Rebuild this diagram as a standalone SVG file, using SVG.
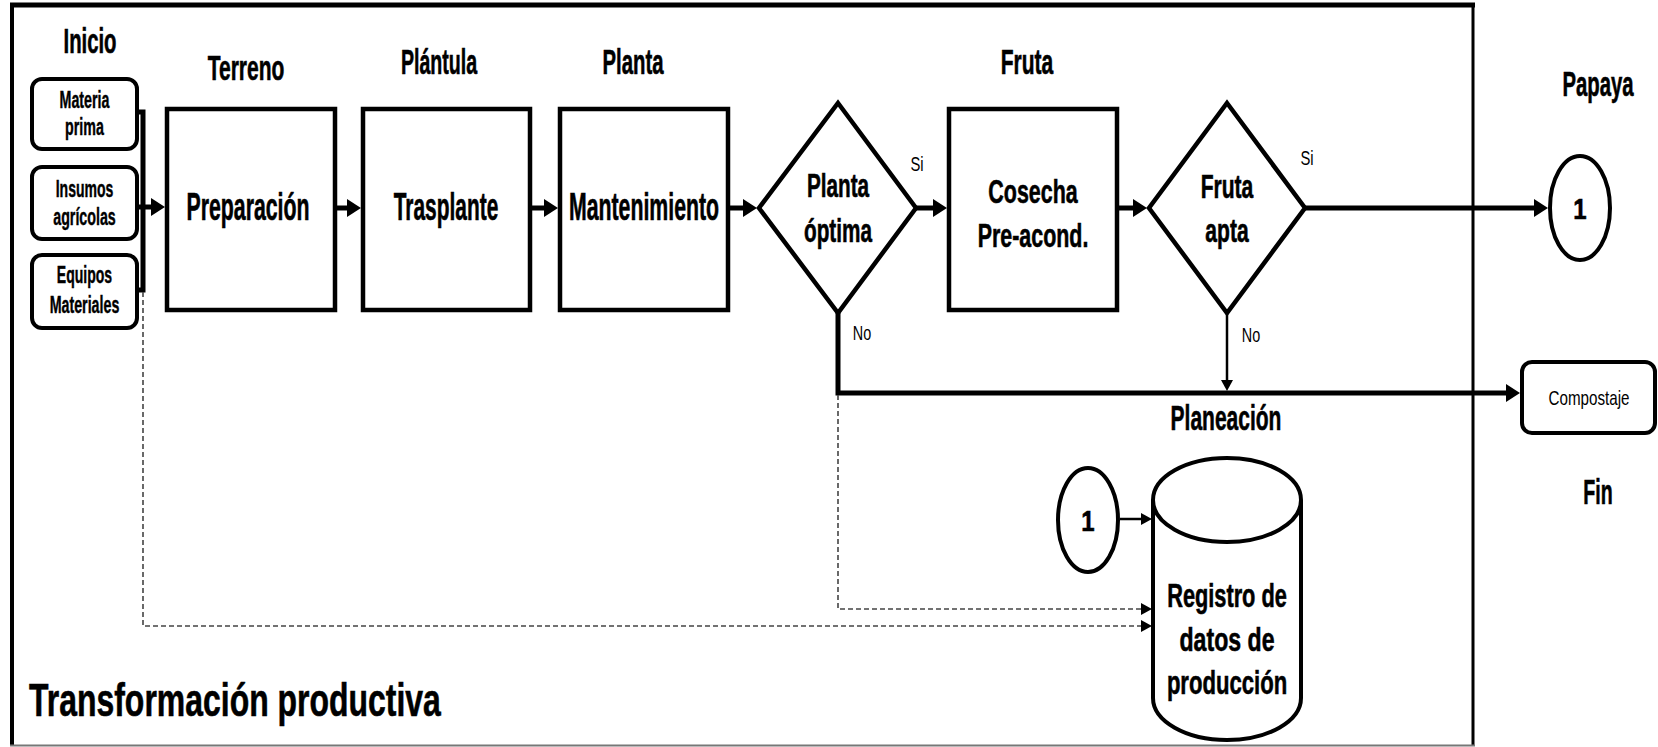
<svg xmlns="http://www.w3.org/2000/svg" width="1658" height="747" viewBox="0 0 1658 747">
  <defs>
    <marker id="ah" markerUnits="userSpaceOnUse" viewBox="0 0 14 18" refX="2" refY="9" markerWidth="14" markerHeight="18" orient="auto">
      <path d="M0,0 L14,9 L0,18 z" fill="#000"/>
    </marker>
    <marker id="ahs" markerUnits="userSpaceOnUse" viewBox="0 0 11 12" refX="2" refY="6" markerWidth="11" markerHeight="12" orient="auto">
      <path d="M0,0 L11,6 L0,12 z" fill="#000"/>
    </marker>
  </defs>
  <style>
    .t{font-family:"Liberation Sans",Arial,sans-serif;font-weight:bold;fill:#000;stroke:#000;stroke-width:0.6;text-anchor:middle}
    .n{font-weight:normal;stroke:none}
    .h{font-size:35px}
    .b{font-size:38px}
    .m{font-size:34px}
    .s{font-size:23px;stroke-width:0.4}
    .l{font-size:20px}
    .box{fill:#fff;stroke:#000;stroke-width:4.5}
    .rbox{fill:#fff;stroke:#000;stroke-width:4}
    .thick{fill:none;stroke:#000;stroke-width:5}
    .thin{fill:none;stroke:#000;stroke-width:2.5}
    .dash{fill:none;stroke:#444;stroke-width:1.6;stroke-dasharray:5 3}
  </style>
  <rect width="1658" height="747" fill="#fff"/>

  <!-- process frame -->
  <g id="frame">
    <line x1="10" y1="5" x2="1475" y2="5" stroke="#000" stroke-width="5"/>
    <line x1="12" y1="5" x2="12" y2="746" stroke="#000" stroke-width="4"/>
    <line x1="1473" y1="5" x2="1473" y2="746" stroke="#000" stroke-width="3"/>
    <line x1="10" y1="745.5" x2="1475" y2="745.5" stroke="#777" stroke-width="2"/>
    <text class="t" style="text-anchor:start" font-size="47" transform="translate(29,716) scale(0.68,1)">Transformación productiva</text>
  </g>

  <!-- stage headings (condensed bold) -->
  <g id="headings">
    <text class="t h" transform="translate(90,53) scale(0.58,1)">Inicio</text>
    <text class="t h" transform="translate(246,80) scale(0.6,1)">Terreno</text>
    <text class="t h" transform="translate(439,74) scale(0.56,1)">Plántula</text>
    <text class="t h" transform="translate(633,74) scale(0.58,1)">Planta</text>
    <text class="t h" transform="translate(1027,74) scale(0.6,1)">Fruta</text>
    <text class="t h" transform="translate(1598,96) scale(0.58,1)">Papaya</text>
    <text class="t h" transform="translate(1226,430) scale(0.6,1)">Planeación</text>
    <text class="t h" transform="translate(1598,504) scale(0.56,1)">Fin</text>
  </g>

  <!-- connectors -->
  <g id="connectors">
    <path class="thick" d="M137,112 H143 V290 H137"/>
    <line class="thick" x1="137" y1="207" x2="153" y2="207" marker-end="url(#ah)"/>
    <line class="thick" x1="335" y1="208" x2="349" y2="208" marker-end="url(#ah)"/>
    <line class="thick" x1="530" y1="208" x2="546" y2="208" marker-end="url(#ah)"/>
    <line class="thick" x1="728" y1="208" x2="745" y2="208" marker-end="url(#ah)"/>
    <line class="thick" x1="916" y1="208" x2="935" y2="208" marker-end="url(#ah)"/>
    <line class="thick" x1="1117" y1="208" x2="1135" y2="208" marker-end="url(#ah)"/>
    <line class="thick" x1="1305" y1="208" x2="1536" y2="208" marker-end="url(#ah)"/>
    <path class="thick" d="M838,313 V393 H1508" marker-end="url(#ah)"/>
    <line class="thin" x1="1227" y1="313" x2="1227" y2="382" marker-end="url(#ahs)"/>
    <line class="thin" x1="1120" y1="519" x2="1143" y2="519" marker-end="url(#ahs)"/>
    <path class="dash" d="M838,395 V609 H1143" marker-end="url(#ahs)"/>
    <path class="dash" d="M143,292 V626 H1143" marker-end="url(#ahs)"/>
    <text class="t n l" transform="translate(917,171) scale(0.74,1)">Si</text>
    <text class="t n l" transform="translate(1307,165) scale(0.74,1)">Si</text>
    <text class="t n l" transform="translate(862,340) scale(0.72,1)">No</text>
    <text class="t n l" transform="translate(1251,342) scale(0.72,1)">No</text>
  </g>

  <!-- inputs -->
  <g id="materia-prima">
    <rect class="rbox" x="32" y="79" width="105" height="70" rx="10"/>
    <text class="t s" transform="translate(84.5,108) scale(0.62,1)">Materia</text>
    <text class="t s" transform="translate(84.5,135) scale(0.62,1)">prima</text>
  </g>
  <g id="insumos">
    <rect class="rbox" x="32" y="167" width="105" height="72" rx="10"/>
    <text class="t s" transform="translate(84.5,197) scale(0.61,1)">Insumos</text>
    <text class="t s" transform="translate(84.5,225) scale(0.62,1)">agrícolas</text>
  </g>
  <g id="equipos">
    <rect class="rbox" x="32" y="255" width="105" height="73" rx="10"/>
    <text class="t s" transform="translate(84.5,283) scale(0.61,1)">Equipos</text>
    <text class="t s" transform="translate(84.5,313) scale(0.62,1)">Materiales</text>
  </g>

  <!-- process steps -->
  <g id="preparacion">
    <rect class="box" x="167" y="109" width="168" height="201"/>
    <text class="t b" transform="translate(248,220) scale(0.56,1)">Preparación</text>
  </g>
  <g id="trasplante">
    <rect class="box" x="363" y="109" width="167" height="201"/>
    <text class="t b" transform="translate(446,220) scale(0.55,1)">Trasplante</text>
  </g>
  <g id="mantenimiento">
    <rect class="box" x="560" y="109" width="168" height="201"/>
    <text class="t b" transform="translate(644,220) scale(0.56,1)">Mantenimiento</text>
  </g>
  <g id="planta-optima">
    <polygon class="box" points="838,103 916,208 838,313 759,208"/>
    <text class="t m" transform="translate(838,197) scale(0.61,1)">Planta</text>
    <text class="t m" transform="translate(838,242) scale(0.61,1)">óptima</text>
  </g>
  <g id="cosecha">
    <rect class="box" x="949" y="109" width="168" height="201"/>
    <text class="t m" transform="translate(1033,203) scale(0.63,1)">Cosecha</text>
    <text class="t m" transform="translate(1033,247) scale(0.63,1)">Pre-acond.</text>
  </g>
  <g id="fruta-apta">
    <polygon class="box" points="1227,103 1305,208 1227,313 1149,208"/>
    <text class="t m" transform="translate(1227,198) scale(0.62,1)">Fruta</text>
    <text class="t m" transform="translate(1227,242) scale(0.62,1)">apta</text>
  </g>

  <!-- outputs -->
  <g id="papaya">
    <ellipse class="rbox" cx="1580" cy="208" rx="30" ry="52"/>
    <text class="t" font-size="30" transform="translate(1580,219) scale(0.8,1)">1</text>
  </g>
  <g id="compostaje">
    <rect class="rbox" x="1522" y="362" width="133" height="71" rx="10"/>
    <text class="t n l" transform="translate(1589,405) scale(0.76,1)">Compostaje</text>
  </g>

  <!-- planning -->
  <g id="conector-1">
    <ellipse class="rbox" cx="1088" cy="520" rx="30" ry="52"/>
    <text class="t" font-size="30" transform="translate(1088,531) scale(0.8,1)">1</text>
  </g>
  <g id="registro">
    <path class="rbox" d="M1153,500 V698 A74,42 0 0 0 1301,698 V500 A74,42 0 0 0 1153,500 Z"/>
    <path class="rbox" fill="none" d="M1153,500 A74,42 0 0 0 1301,500"/>
    <text class="t m" transform="translate(1227,607) scale(0.64,1)">Registro de</text>
    <text class="t m" transform="translate(1227,651) scale(0.68,1)">datos de</text>
    <text class="t m" transform="translate(1227,694) scale(0.65,1)">producción</text>
  </g>
</svg>
